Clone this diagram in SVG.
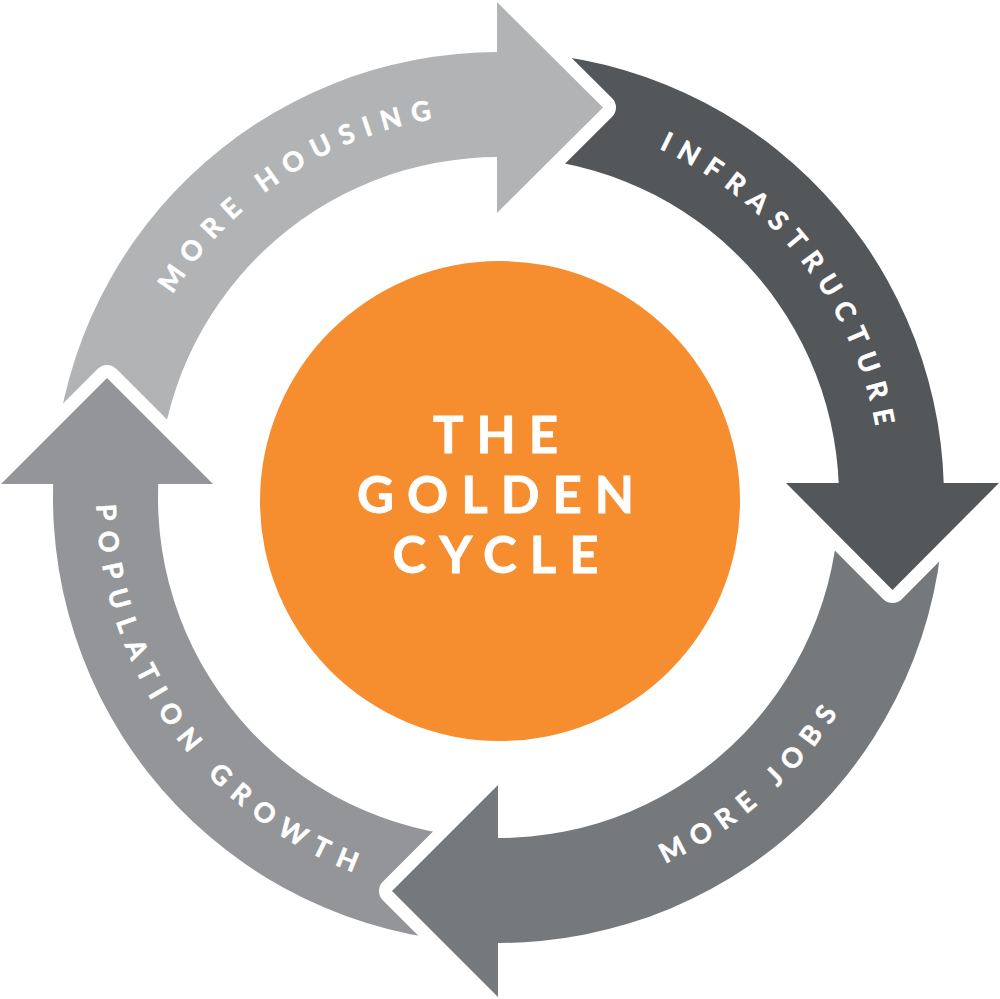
<svg xmlns="http://www.w3.org/2000/svg" width="1000" height="999" viewBox="0 0 1000 999">
<style>
.lbl{font-family:Lato,"Open Sans","Liberation Sans",sans-serif;font-weight:700;font-size:27px;letter-spacing:10px;fill:#ffffff;stroke:#ffffff;stroke-width:0.6px}
.ctr{font-family:Lato,"Open Sans","Liberation Sans",sans-serif;font-weight:700;font-size:51px;letter-spacing:13px;fill:#ffffff;stroke:#ffffff;stroke-width:0.8px;text-anchor:middle}
.cut{fill:#000;stroke:#000;stroke-width:26;stroke-linejoin:round}
.housing{fill:#B1B3B5}
.infra{fill:#54575A}
.jobs{fill:#76797B}
.pop{fill:#939598}
</style>
<defs>
<path id="pHousing" d="M 125.9 590.4 A 384 384 0 0 1 724.2 186.8"/>
<path id="pInfra" d="M 379.8 132.3 A 384 384 0 0 1 824.1 701.0"/>
<path id="pJobs" d="M 367.6 877.6 A 402 402 0 0 0 893.1 420.8"/>
<path id="pPop" d="M 169.2 266.9 A 402 402 0 0 0 602.5 885.8"/>
<mask id="mHousing" maskUnits="userSpaceOnUse" x="0" y="0" width="1000" height="999">
<rect width="1000" height="999" fill="#fff"/>
<polygon class="cut" points="1,484 107,378 213,484"/>
</mask>
<mask id="mInfra" maskUnits="userSpaceOnUse" x="0" y="0" width="1000" height="999">
<rect width="1000" height="999" fill="#fff"/>
<polygon class="cut" points="497,2 603,107.5 497,213"/>
</mask>
<mask id="mJobs" maskUnits="userSpaceOnUse" x="0" y="0" width="1000" height="999">
<rect width="1000" height="999" fill="#fff"/>
<polygon class="cut" points="786,483 999,483 892.5,590"/>
</mask>
<mask id="mPop" maskUnits="userSpaceOnUse" x="0" y="0" width="1000" height="999">
<rect width="1000" height="999" fill="#fff"/>
<polygon class="cut" points="498,785 392,891 498,997"/>
</mask>
</defs>
<rect width="1000" height="999" fill="#ffffff"/>
<g id="connectors">
<g id="arrow-more-housing">
<path class="housing" mask="url(#mHousing)" d="M 158.3 484 L 53.2 484 A 445.5 445.5 0 0 1 500 52 L 500 157 A 340.5 340.5 0 0 0 158.3 484 Z"/>
<polygon class="housing" points="497,2 603,107.5 497,213"/>
<text class="lbl"><textPath href="#pHousing" startOffset="474" text-anchor="middle">MORE HOUSING</textPath></text>
</g>
<g id="arrow-infrastructure">
<path class="infra" mask="url(#mInfra)" d="M 497 52 A 445.5 445.5 0 0 1 943.85 486 L 838.8 486 A 340.5 340.5 0 0 0 497 157 Z"/>
<polygon class="infra" points="786,483 999,483 892.5,590"/>
<text class="lbl"><textPath href="#pInfra" startOffset="474" text-anchor="middle">INFRASTRUCTURE</textPath></text>
</g>
<g id="arrow-more-jobs">
<path class="jobs" mask="url(#mJobs)" d="M 943.76 483 A 445.5 445.5 0 0 1 496 943 L 496 838 A 340.5 340.5 0 0 0 838.7 483 Z"/>
<polygon class="jobs" points="498,785 392,891 498,997"/>
<text class="lbl"><textPath href="#pJobs" startOffset="426" text-anchor="middle">MORE JOBS</textPath></text>
</g>
<g id="arrow-population-growth">
<path class="pop" mask="url(#mPop)" d="M 498 943 A 445.5 445.5 0 0 1 53.3 481 L 158.4 481 A 340.5 340.5 0 0 0 498 838 Z"/>
<polygon class="pop" points="1,484 107,378 213,484"/>
<text class="lbl" style="letter-spacing:10.8px"><textPath href="#pPop" startOffset="496" text-anchor="middle">POPULATION GROWTH</textPath></text>
</g>
</g>
<g id="golden-cycle">
<circle cx="500" cy="501" r="240" fill="#F68D2E"/>
<text class="ctr" x="502" y="453">THE</text>
<text class="ctr" x="502" y="513">GOLDEN</text>
<text class="ctr" x="502" y="573">CYCLE</text>
</g>
</svg>
